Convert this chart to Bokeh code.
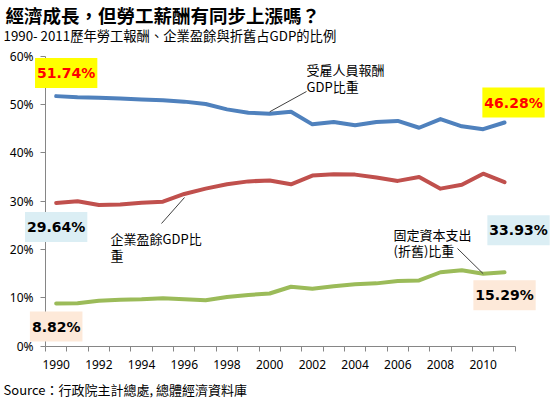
from bokeh.plotting import figure
from bokeh.models import FixedTicker, Label, CustomJSTickFormatter
from bokeh.embed import file_html
from bokeh.resources import INLINE

# ---- data ----
years = list(range(1990, 2012))
comp = [51.74, 51.5, 51.4, 51.25, 51.05, 50.9, 50.6, 50.1, 49.0, 48.3, 48.1,
        48.5, 45.9, 46.4, 45.7, 46.4, 46.6, 45.2, 47.0, 45.5, 44.9, 46.28]
profit = [29.64, 30.0, 29.2, 29.3, 29.7, 29.9, 31.5, 32.6, 33.5, 34.1, 34.3,
          33.5, 35.3, 35.6, 35.5, 34.9, 34.2, 35.0, 32.6, 33.4, 35.7, 33.93]
depr = [8.82, 8.9, 9.4, 9.6, 9.7, 9.9, 9.7, 9.5, 10.2, 10.6, 10.9,
        12.3, 11.9, 12.4, 12.8, 13.0, 13.5, 13.6, 15.3, 15.7, 15.0, 15.29]
x_tick_labels = [1990, 1992, 1994, 1996, 1998, 2000, 2002, 2004, 2006, 2008, 2010]
y_ticks = [0, 10, 20, 30, 40, 50, 60]

title = "經濟成長，但勞工薪酬有同步上漲嗎？"
subtitle = "1990- 2011歷年勞工報酬、企業盈餘與折舊占GDP的比例"
source = "Source：行政院主計總處, 總體經濟資料庫"
name_comp = ["受雇人員報酬", "GDP比重"]
name_profit = ["企業盈餘GDP比", "重"]
name_depr = ["固定資本支出", "(折舊)比重"]

BLUE, RED, GREEN = "#4F81BD", "#C0504D", "#9BBB59"
CJK = "Noto Sans CJK TC"

W, H = 553, 399
# axes box inside the canvas, in canvas pixels
AL, AR, AT, AB = 45, 514.7, 55.7, 345.7
x0, x1 = years[0] - 0.5, years[-1] + 0.5

def X(fx):  # canvas px -> data x
    return x0 + (fx - AL) / (AR - AL) * (x1 - x0)

def Y(fy):  # canvas px -> data y
    return (AB - fy) / (AB - AT) * 60

p = figure(width=W, height=H, x_range=(X(0), X(W)), y_range=(Y(H), Y(0)),
           output_backend="svg", toolbar_location=None,
           min_border_left=0, min_border_right=0, min_border_top=0, min_border_bottom=0)
p.outline_line_color = None
p.grid.visible = False
p.background_fill_color = "white"
p.border_fill_color = "white"

AX = "#868686"
# x axis
p.xaxis.fixed_location = 0
p.xaxis.bounds = (x0, x1)
p.xaxis.ticker = FixedTicker(ticks=x_tick_labels, minor_ticks=[x0 + i for i in range(len(years) + 1)])
p.xaxis.axis_line_color = AX
p.xaxis.major_tick_line_color = None
p.xaxis.major_tick_out = 5
p.xaxis.major_tick_in = 0
p.xaxis.minor_tick_line_color = AX
p.xaxis.minor_tick_out = 5
p.xaxis.minor_tick_in = 0
p.xaxis.major_label_standoff = 9
p.xaxis.major_label_text_font = "Noto Sans"
p.xaxis.major_label_text_font_size = "12px"
p.xaxis.major_label_text_color = "black"
# y axis
p.yaxis.fixed_location = x0
p.yaxis.bounds = (0, 60)
p.yaxis.ticker = FixedTicker(ticks=y_ticks, minor_ticks=[])
p.yaxis.formatter = CustomJSTickFormatter(code="return tick + '%';")
p.yaxis.axis_line_color = AX
p.yaxis.major_tick_line_color = AX
p.yaxis.major_tick_out = 5
p.yaxis.major_tick_in = 0
p.yaxis.major_label_standoff = 7
p.yaxis.major_label_text_font = "Noto Sans"
p.yaxis.major_label_text_font_size = "12px"
p.yaxis.major_label_text_color = "black"

for ys, c in ((comp, BLUE), (profit, RED), (depr, GREEN)):
    p.line(years, ys, line_color=c, line_width=4, line_join="round", line_cap="round")

# leader lines
p.segment(x0=[years[10], X(184), X(457)], y0=[comp[10] + 0.4, Y(197), Y(248)],
          x1=[X(306), X(161), years[20]], y1=[Y(91), Y(223), depr[20]],
          line_color="#404040", line_width=1)

# series names (one label per line)
for lines, fx, fy in ((name_comp, 306, 69), (name_profit, 110, 238), (name_depr, 393, 233.5)):
    for i, txt in enumerate(lines):
        p.add_layout(Label(x=X(fx), y=Y(fy + i * 16.8), text=txt, text_font=CJK,
                           text_font_size="13px", text_baseline="middle", text_align="left",
                           text_color="black"))

# value boxes
boxes = [
    (years[0], comp[0], 10, 23, "#FF0000", "#FFFF00"),
    (years[0], profit[0], 0, -24, "black", "#DBEEF4"),
    (years[0], depr[0], 0, -23, "black", "#FDE9D9"),
    (years[-1], comp[-1], 9, 20, "#FF0000", "#FFFF00"),
    (years[-1], profit[-1], 14, -48, "black", "#DBEEF4"),
    (years[-1], depr[-1], 0, -23, "black", "#FDE9D9"),
]
for xv, yv, dx, dy, tc, bg in boxes:
    p.add_layout(Label(x=xv, y=yv, x_offset=dx, y_offset=dy, text=f"{yv:.2f}%",
                       text_font="DejaVu Sans", text_font_style="bold", text_font_size="14px",
                       text_align="center", text_baseline="middle", text_color=tc,
                       background_fill_color=bg,
                       padding=dict(left=2, right=2, top=7, bottom=7)))

# titles and source
p.add_layout(Label(x=X(5), y=Y(14), text=title, text_font=CJK, text_font_style="bold",
                   text_font_size="18.5px", text_baseline="middle", text_color="black"))
p.add_layout(Label(x=X(3), y=Y(35), text=subtitle, text_font=CJK,
                   text_font_size="13.3px", text_baseline="middle", text_color="black"))
p.add_layout(Label(x=X(3), y=Y(389), text=source, text_font=CJK,
                   text_font_size="13px", text_baseline="middle", text_color="black"))

open("out.html", "w").write(file_html(p, INLINE))
